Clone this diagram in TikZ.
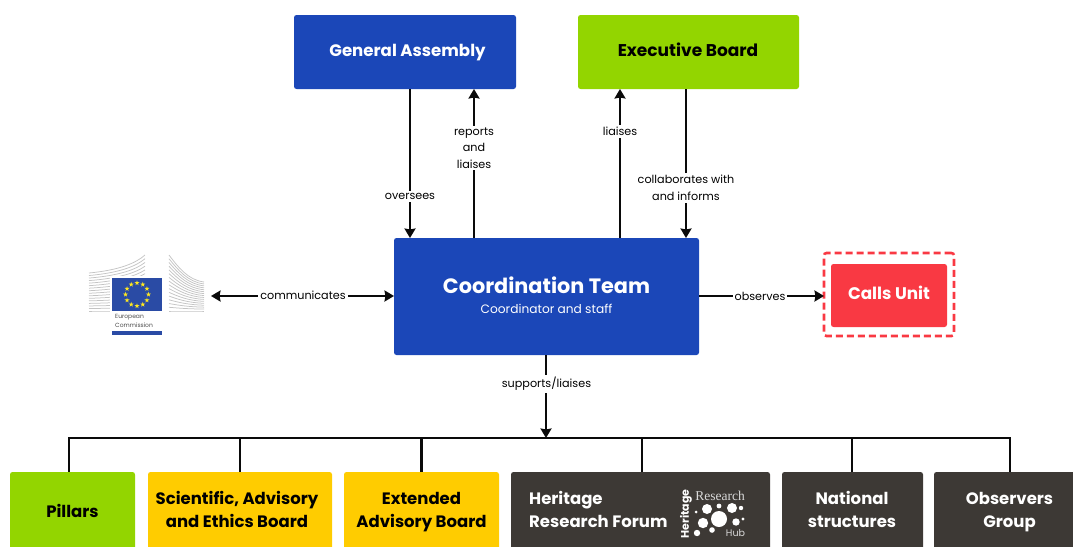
\documentclass[tikz,border=0pt]{standalone}
\usepackage{fontspec}
\setmainfont{Poppins}
\usetikzlibrary{arrows.meta,calc}
\definecolor{bluebox}{HTML}{1B47B8}
\definecolor{greenbox}{HTML}{93D500}
\definecolor{yellowbox}{HTML}{FFCC00}
\definecolor{darkbox}{HTML}{3D3935}
\definecolor{redbox}{HTML}{F93943}
\definecolor{conn}{HTML}{0A0A0A}
\definecolor{eublue}{HTML}{2A4BA5}
\definecolor{eustar}{HTML}{FFE81E}
\definecolor{bldg}{HTML}{C4C4C4}
\newcommand{\topstrut}{\rule{0pt}{15pt}}
\newcommand{\botstrut}{\rule[-5pt]{0pt}{5pt}}
\tikzset{
  box/.style={rounded corners=2.5pt,inner sep=0pt,outer sep=0pt,draw=none},
  toptitle/.style={font=\fontsize{17}{20}\selectfont\bfseries,align=center,inner sep=0pt},
  bottitle/.style={font=\fontsize{16.5}{23.3}\selectfont\bfseries,align=center,inner sep=0pt},
  edgetext/.style={font=\fontsize{11.2}{16.5}\selectfont,align=center,fill=white,text=black,inner sep=2pt},
  link/.style={draw=conn,line width=2.5pt,-{Stealth[length=9.5pt,width=11pt,inset=1pt]}},
  biline/.style={draw=conn,line width=2.5pt,{Stealth[length=9.5pt,width=11pt,inset=1pt]}-{Stealth[length=9.5pt,width=11pt,inset=1pt]}},
  plain/.style={draw=conn,line width=2.5pt},
  bottombox/.style={box,anchor=north west,minimum height=90pt},
}
\begin{document}
\begin{tikzpicture}[x=1pt,y=-1pt]
\useasboundingbox (0,0) rectangle (1073,546);
\clip (0,0) rectangle (1073,546);
% main boxes
\node[box,fill=bluebox,anchor=north west,minimum width=222pt,minimum height=74pt] (ga) at (294,15) {};
\node[toptitle,font=\fontsize{16.6}{20}\selectfont\bfseries,text=white] (gat) at (407.5,51) {\topstrut General Assembly\botstrut};
\node[box,fill=greenbox,anchor=north west,minimum width=221pt,minimum height=74pt] (eb) at (578,15) {};
\node[toptitle,text=black] (ebt) at (688,51) {\topstrut Executive Board\botstrut};
\node[box,fill=bluebox,anchor=north west,minimum width=305pt,minimum height=117pt] (ct) at (394,238) {};
\node[font=\fontsize{20.8}{26}\selectfont\bfseries,text=white,inner sep=0pt] (ctt) at (546.5,285) {Coordination Team};
\node[font=\fontsize{12.2}{15}\selectfont,text=white,inner sep=0pt] (cts) at (546.5,309) {Coordinator and staff};
% calls unit
\node[box,draw=redbox,line width=2.6pt,dash pattern=on 7pt off 4pt,anchor=north west,minimum width=130pt,minimum height=83pt] (cf) at (824,253) {};
\node[box,fill=redbox,anchor=north west,minimum width=116pt,minimum height=63pt] (cu) at (831,264) {};
\node[font=\fontsize{16.8}{20}\selectfont\bfseries,text=white,inner sep=0pt] (cut) at (889,293) {Calls Unit};
% bottom row
\node[bottombox,fill=greenbox,minimum width=125pt] (pi) at (10,472) {};
\node[bottombox,fill=yellowbox,minimum width=184pt] (sa) at (148,472) {};
\node[bottombox,fill=yellowbox,minimum width=155pt] (ea) at (344,472) {};
\node[bottombox,fill=darkbox,minimum width=259pt] (hr) at (511,472) {};
\node[bottombox,fill=darkbox,minimum width=141pt] (ns) at (782,472) {};
\node[bottombox,fill=darkbox,minimum width=160pt] (og) at (934,472) {};
\node[bottitle,text=black] (pit) at (72.5,512) {\topstrut Pillars\botstrut};
\node[bottitle,text=black] (sat) at (237,511) {\topstrut Scientific, Advisory\\and Ethics Board\botstrut};
\node[bottitle,text=black] (eat) at (421.5,511) {\topstrut Extended\\Advisory Board\botstrut};
\node[bottitle,text=white,align=left,anchor=west] (hrt) at (529,511) {\topstrut Heritage\\Research Forum\botstrut};
\node[bottitle,text=white] (nst) at (852,511) {\topstrut National\\structures\botstrut};
\node[bottitle,text=white] (ogt) at (1009.5,511) {\topstrut Observers\\Group\botstrut};
% connector guides
\coordinate (xa) at (410,0);
\coordinate (xb) at (474,0);
\coordinate (xc) at (620,0);
\coordinate (xd) at (686,0);
\coordinate (ys) at (0,296);
\coordinate (bus) at (546,438);
\coordinate (busl) at (69,438);
\coordinate (busr) at (1010,438);
\coordinate (ecr) at (211,296);
\coordinate (xh) at (642,0);
\coordinate (xn) at (852,0);
% connectors
\draw[link] (ga.south -| xa) -- (ct.north -| xa);
\draw[link] (ct.north -| xb) -- (ga.south -| xb);
\draw[link] (ct.north -| xc) -- (eb.south -| xc);
\draw[link] (eb.south -| xd) -- (ct.north -| xd);
\draw[biline] (ecr) -- (ct.west |- ecr);
\draw[link] (ct.east |- ys) -- (cf.west |- ys);
\draw[plain,line cap=rect] (busl) -- (busr);
\draw[link] (ct.south -| bus) -- (bus);
\draw[plain] (busl) -- (pi.north -| busl);
\draw[plain] (sa.north |- bus) -- (sa.north);
\draw[plain] (ea.north |- bus) -- (ea.north);
\draw[plain] (bus -| xh) -- (hr.north -| xh);
\draw[plain] (bus -| xn) -- (ns.north -| xn);
\draw[plain] (busr) -- (og.north -| busr);
% connector labels
\node[edgetext] (l1) at (410,196.5) {oversees};
\node[edgetext] (l2) at (474,148) {reports\\and\\liaises};
\node[edgetext] (l3) at (620,131.5) {liaises};
\node[edgetext] (l4) at (686,188) {collaborates with\\and informs};
\node[edgetext] (l5) at (303,295) {communicates};
\node[edgetext] (l6) at (760,296) {observes};
\node[edgetext] (l7) at (546.5,384) {supports/liaises};
% European Commission logo
\foreach \i in {0,...,15}{
  \pgfmathsetmacro{\t}{\i/15}
  \pgfmathsetmacro{\la}{273+38*\t}
  \pgfmathsetmacro{\ra}{255+56*\t}
  \pgfmathsetmacro{\ca}{\la-3*(1-\t)}
  \pgfmathsetmacro{\cb}{\ra+8*(1-\t)}
  \draw[bldg,line width=.75pt] (89,\la) .. controls (120,\ca) and (136,\cb) .. (145,\ra);
  \pgfmathsetmacro{\lb}{255+56*\t}
  \pgfmathsetmacro{\rb}{282+29*\t}
  \pgfmathsetmacro{\cc}{\lb+12*(1-\t)}
  \pgfmathsetmacro{\cd}{\rb-2*(1-\t)}
  \draw[bldg,line width=.75pt] (169,\lb) .. controls (178,\cc) and (188,\cd) .. (204,\rb);
}
\fill[white] (110,276) rectangle (164,335);
\fill[eublue] (112,278) rectangle (162,311);
\foreach \a in {0,30,...,330}{
  \fill[eustar] ($(137,294.5)+(\a:11.5)$) +(-90:2.6) -- +(54:2.6) -- +(198:2.6) -- +(-18:2.6) -- +(126:2.6) -- cycle;
}
\node[font=\fontsize{6}{8.5}\selectfont,text=black!70,align=left,anchor=north west,inner sep=0pt] (ect) at (115,314.5) {European\\Commission};
\fill[eublue] (112,331) rectangle (162,334.5);
% Heritage Research Hub logo
\node[font=\fontsize{11}{12}\selectfont\bfseries,text=white,rotate=90,inner sep=0pt] (hl1) at (686,514) {Heritage};
\node[font=\fontsize{13.5}{14}\fontspec{Liberation Serif}\selectfont,text=white!85!black,inner sep=0pt] (hl2) at (720,496) {Research};
\node[font=\fontsize{9.5}{12}\selectfont,text=white!85!black,inner sep=0pt] (hl3) at (735.5,533) {Hub};
\fill[white] (719,519) circle (8)
  (707,509) circle (5)
  (703,523) circle (5.2)
  (732,508) circle (5)
  (719,506) circle (2.4)
  (741,508) circle (2.2)
  (736,522) circle (3.7)
  (743,519) circle (1.7)
  (712,530) circle (2.8)
  (697,533) circle (3.2)
  (696,512) circle (1.5);
\end{tikzpicture}
\end{document}
